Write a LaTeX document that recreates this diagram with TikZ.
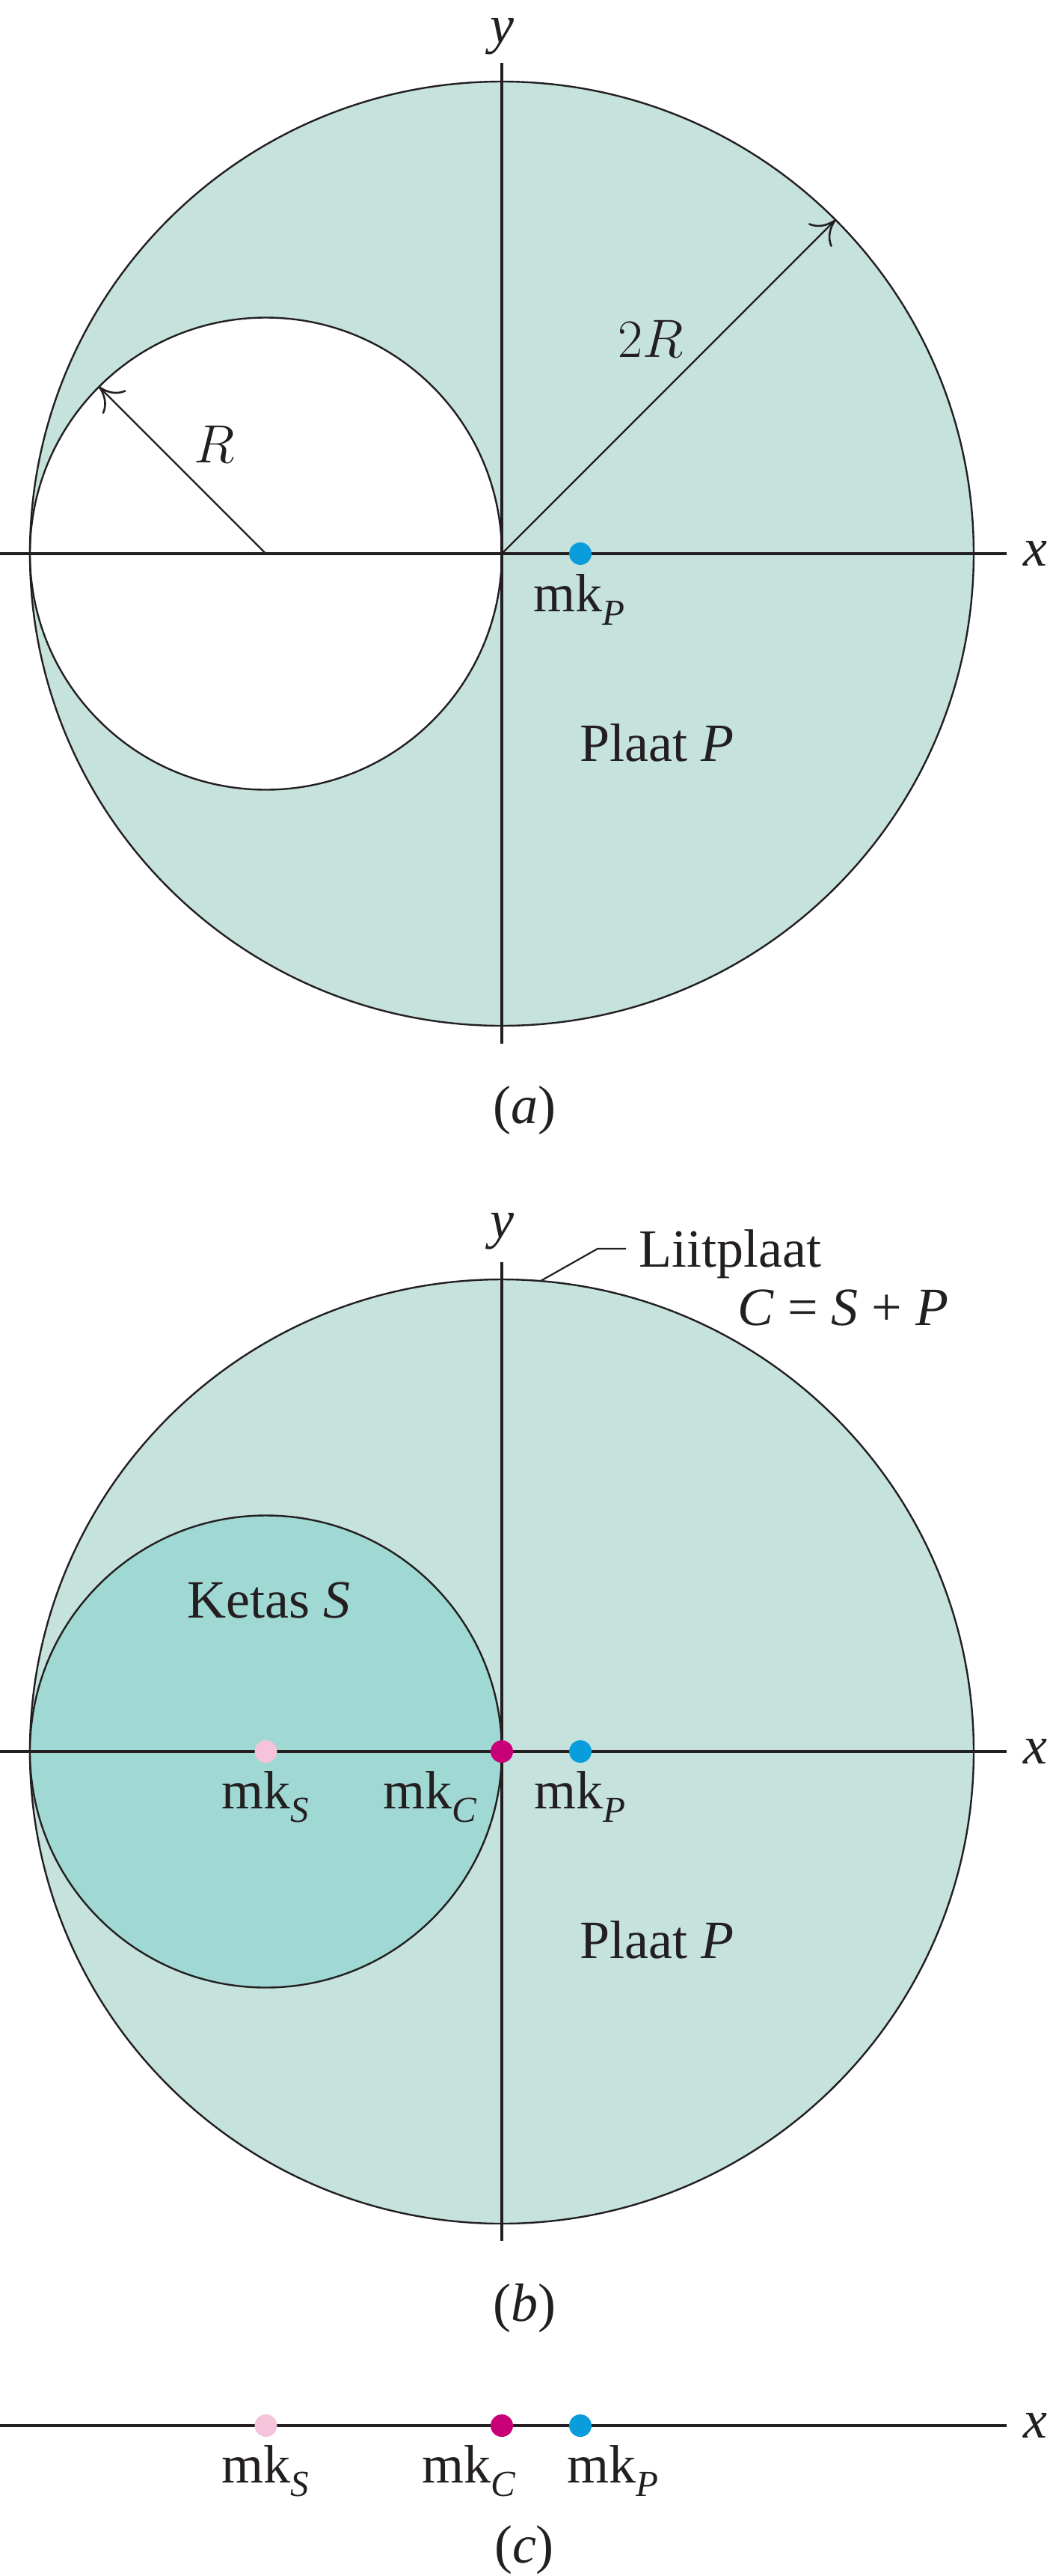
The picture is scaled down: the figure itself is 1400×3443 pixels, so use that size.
\documentclass[tikz,border=0pt]{standalone}
\usepackage{fix-cm}
\usepackage{fontspec}
\setmainfont{Liberation Serif}
\usetikzlibrary{arrows.meta,calc}
\definecolor{plate}{RGB}{197,226,221}
\definecolor{disk}{RGB}{160,216,211}
\definecolor{cmblue}{RGB}{10,157,220}
\definecolor{cmmag}{RGB}{200,0,120}
\definecolor{cmpink}{RGB}{245,195,218}
\definecolor{ink}{RGB}{35,31,32}
\newcommand{\mkl}[1]{mk\raisebox{-9pt}{\fontsize{24.5}{24.5}\selectfont\itshape #1}}
\begin{document}
\begin{tikzpicture}[x=0.5pt,y=0.5pt,
  outline/.style={draw=ink,line width=1.2pt},
  axis/.style={draw=ink,line width=1.9pt},
  lbl/.style={inner sep=0pt,anchor=base west,text=ink,font=\fontsize{36}{43}\selectfont},
  axlbl/.style={inner sep=0pt,text=ink,font=\fontsize{36}{43}\selectfont\itshape},
  captxt/.style={inner sep=0pt,text=ink,font=\fontsize{36}{43}\selectfont},
  radarrow/.style={draw=ink,line width=1.1pt,-{Computer Modern Rightarrow[length=15pt,width=22pt,line width=1.3pt]}},
  leader/.style={draw=ink,line width=1.1pt},
  cmdot/.style={circle,inner sep=0pt,minimum size=15pt}]
\useasboundingbox (0,0) rectangle (1400,-3443);

% ---------- (a) ----------
\coordinate (Oa) at (671,-740);
\coordinate (Sa) at (355.5,-740);
\fill[plate,even odd rule] (Oa) circle (631) (Sa) circle (315.5);
\draw[outline] (Oa) circle (631);
\draw[outline] (Sa) circle (315.5);
\coordinate (xa0) at (0,-740);
\coordinate (xa1) at (1346,-740);
\coordinate (ya0) at (671,-84);
\coordinate (ya1) at (671,-1395);
\draw[axis] (xa0) -- (xa1);
\draw[axis] (ya0) -- (ya1);
\node[axlbl] (xla) at (1384,-740) {x};
\node[axlbl] (yla) at (671,-49) {y};
\coordinate (Ra) at ($(Sa)+(135:315.5)$);
\coordinate (R2a) at ($(Oa)+(45:631)$);
\draw[radarrow] (Sa) -- (Ra);
\draw[radarrow] (Oa) -- (R2a);
\node[lbl] (Rl) at (259,-618) {$R$};
\node[lbl] (R2l) at (826,-477) {$2R$};
\node[cmdot,fill=cmblue] (pa) at (776,-740) {};
\node[lbl] (mkpa) at (713,-817) {\mkl{P}};
\node[lbl] (plaata) at (775,-1017) {Plaat \textit{P}};
\node[captxt] (capa) at (701,-1484) {(\textit{a})};

% ---------- (b) ----------
\coordinate (Ob) at (671,-2341);
\coordinate (Sb) at (355.5,-2341);
\fill[plate] (Ob) circle (631);
\draw[outline] (Ob) circle (631);
\fill[disk] (Sb) circle (315.5);
\draw[outline] (Sb) circle (315.5);
\coordinate (xb0) at (0,-2341);
\coordinate (xb1) at (1346,-2341);
\coordinate (yb0) at (671,-1687);
\coordinate (yb1) at (671,-2995);
\draw[axis] (xb0) -- (xb1);
\draw[axis] (yb0) -- (yb1);
\node[axlbl] (xlb) at (1384,-2341) {x};
\node[axlbl] (ylb) at (671,-1646) {y};
\coordinate (lp) at ($(Ob)+(85.3:631)$);
\coordinate (lk) at (799,-1669);
\node[lbl] (liit) at (854,-1693) {Liitplaat};
\coordinate (le) at (837,-1669);
\draw[leader] (lp) -- (lk) -- (le);
\node[lbl] (csp) at (986,-1771) {\textit{C} = \textit{S} + \textit{P}};
\node[lbl] (ketas) at (250,-2162) {Ketas \textit{S}};
\node[cmdot,fill=cmpink] (sb) at (355.5,-2341) {};
\node[cmdot,fill=cmmag] (cb) at (671,-2341) {};
\node[cmdot,fill=cmblue] (pb) at (776,-2341) {};
\node[lbl] (mksb) at (296,-2417) {\mkl{S}};
\node[lbl] (mkcb) at (512,-2417) {\mkl{C}};
\node[lbl] (mkpb) at (714,-2417) {\mkl{P}};
\node[lbl] (plaatb) at (775,-2617) {Plaat \textit{P}};
\node[captxt] (capb) at (701,-3085) {(\textit{b})};

% ---------- (c) ----------
\coordinate (xc0) at (0,-3242);
\coordinate (xc1) at (1346,-3242);
\draw[axis] (xc0) -- (xc1);
\node[axlbl] (xlc) at (1384,-3242) {x};
\node[cmdot,fill=cmpink] (sc) at (355.5,-3242) {};
\node[cmdot,fill=cmmag] (cc) at (671,-3242) {};
\node[cmdot,fill=cmblue] (pc) at (776,-3242) {};
\node[lbl] (mksc) at (296,-3318) {\mkl{S}};
\node[lbl] (mkcc) at (564,-3318) {\mkl{C}};
\node[lbl] (mkpc) at (758,-3318) {\mkl{P}};
\node[captxt] (capc) at (701,-3408) {(\textit{c})};
\end{tikzpicture}
\end{document}
